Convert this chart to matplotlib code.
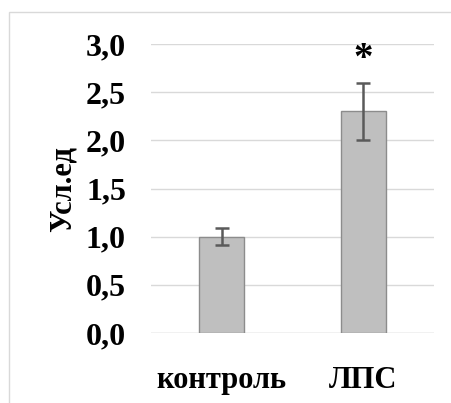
import matplotlib.pyplot as plt
import matplotlib.patches as mpatches

# данные
groups = ['контроль', 'ЛПС']
values = [1.0, 2.3]
errors = [0.09, 0.3]
y_ticks = [0.0, 0.5, 1.0, 1.5, 2.0, 2.5, 3.0]
y_labels = ['0,0', '0,5', '1,0', '1,5', '2,0', '2,5', '3,0']

plt.rcParams['font.family'] = ['Liberation Serif', 'DejaVu Serif']
plt.rcParams['font.weight'] = 'bold'

fig = plt.figure(figsize=(4.51, 4.03), dpi=100)
ax = fig.add_axes([151 / 451, 1 - 333 / 403, 283 / 451, 289 / 403])

# рамка области диаграммы
fig.patches.append(mpatches.Rectangle((9 / 451, -0.1), 1.2, 1 - 12 / 403 + 0.1,
                                      transform=fig.transFigure, fill=False,
                                      edgecolor='#d9d9d9', linewidth=1))

x = range(len(groups))
ax.bar(x, values, width=0.32, color='#bfbfbf', edgecolor='#8c8c8c', linewidth=1, zorder=3)
ax.errorbar(x, values, yerr=errors, fmt='none', ecolor='#5a5a5a',
            elinewidth=1.8, capsize=5, capthick=1.8, zorder=4)
ax.text(1, 2.84, '*', ha='center', va='center', fontsize=28, fontweight='bold')

ax.set_xlim(-0.5, 1.5)
ax.set_ylim(0, 3.0)
ax.set_yticks(y_ticks)
ax.set_yticklabels(y_labels)
ax.set_xticks(list(x))
ax.set_xticklabels(groups)
ax.tick_params(axis='y', length=0, labelsize=23, pad=18)
ax.tick_params(axis='x', length=0, labelsize=22, pad=24)
ax.grid(axis='y', color='#d9d9d9', linewidth=1, zorder=0)
ax.set_axisbelow(True)
for s in ax.spines.values():
    s.set_visible(False)
ax.axhline(0, color='#d9d9d9', linewidth=1, zorder=1)

ax.set_ylabel('Усл.ед', fontsize=22, fontweight='bold', labelpad=6)

fig.savefig('out.png', dpi=100)
